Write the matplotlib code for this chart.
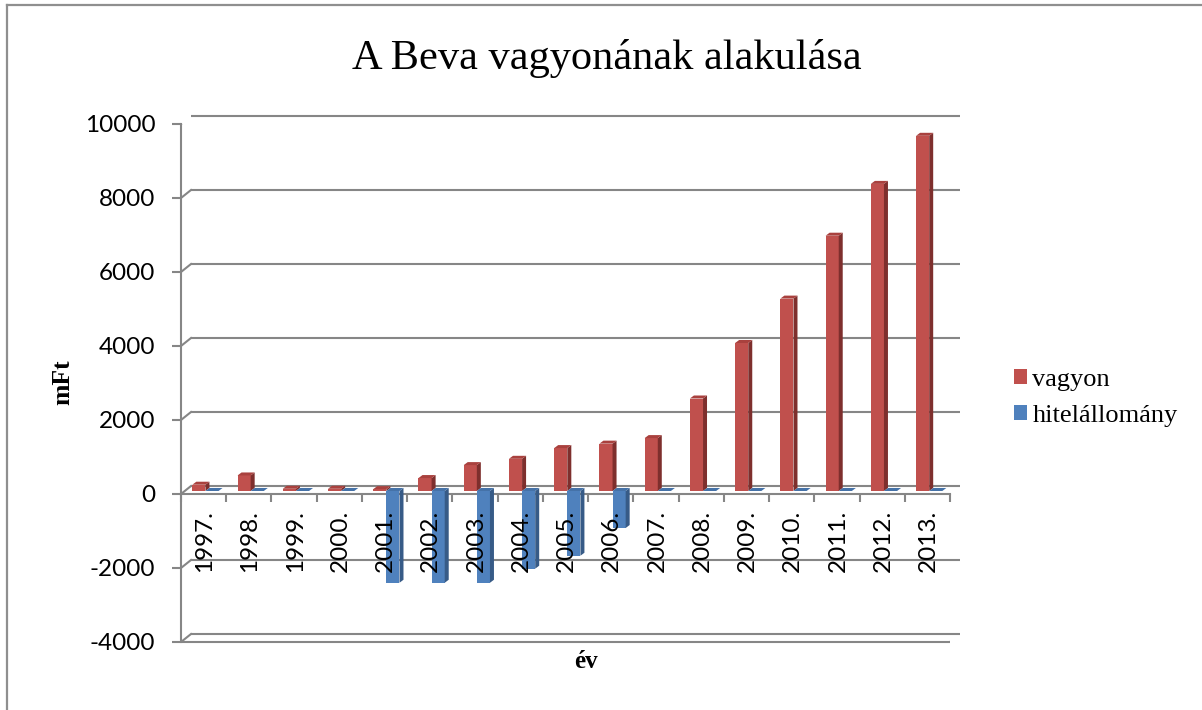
import matplotlib
matplotlib.use('Agg')
import matplotlib.pyplot as plt
from matplotlib.patches import Polygon, Patch
from matplotlib.lines import Line2D
from matplotlib.transforms import ScaledTranslation, IdentityTransform
import numpy as np

plt.rcParams['axes.unicode_minus'] = False

# ---- data ----
years = ['1997.', '1998.', '1999.', '2000.', '2001.', '2002.', '2003.', '2004.',
         '2005.', '2006.', '2007.', '2008.', '2009.', '2010.', '2011.', '2012.', '2013.']
vagyon = [170, 420, 60, 60, 50, 350, 700, 870, 1160, 1280, 1430,
          2500, 4000, 5200, 6900, 8300, 9600]
hitel = [0, 0, 0, 0, -2480, -2480, -2480, -2100, -1750, -1000, 0,
         0, 0, 0, 0, 0, 0]
yticks = [-4000, -2000, 0, 2000, 4000, 6000, 8000, 10000]
series_names = ['vagyon', 'hitelállomány']
title = 'A Beva vagyonának alakulása'
ylabel = 'mFt'
xlabel = 'év'

# ---- style ----
W, H = 1202, 710
GRID = '#868686'
LW = 1.5
RED = ('#C0504D', '#7E2F2D', '#A9413E')     # front, side, top
BLUE = ('#4F81BD', '#375B87', '#4572A8')
DEPTH = (10, 8)        # back wall offset in px
BAR_OFF = (0, 3)       # bar front face offset in px
BAR_D = (4, 3)         # bar depth in px
TICK_FS = 17.5

fig = plt.figure(figsize=(W / 100, H / 100), dpi=100)
ax = fig.add_axes([181 / W, 68 / H, 769 / W, 518 / H])
ax.set_xlim(0, len(years))
ax.set_ylim(yticks[0], yticks[-1])
ax.set_autoscale_on(False)


def off(dx, dy):
    return ax.transData + ScaledTranslation(dx / 100, dy / 100, fig.dpi_scale_trans)


def disp(x, y, dx=0, dy=0):
    p = ax.transData.transform((x, y))
    return (p[0] + dx, p[1] + dy)


n = len(years)
# back wall gridlines
for t in yticks:
    ax.plot([0, n], [t, t], transform=off(*DEPTH), color=GRID, lw=LW,
            clip_on=False, zorder=1, solid_capstyle='butt')
    a = disp(0, t)
    b = disp(0, t, *DEPTH)
    ax.add_line(Line2D([a[0], b[0]], [a[1], b[1]], transform=IdentityTransform(),
                       color=GRID, lw=LW, zorder=1))
# floor front edge and right diagonal
ax.plot([0, n], [yticks[0], yticks[0]], color=GRID, lw=LW, clip_on=False, zorder=1,
        solid_capstyle='butt')
a = disp(n, yticks[0])
b = disp(n, yticks[0], *DEPTH)
ax.add_line(Line2D([a[0], b[0]], [a[1], b[1]], transform=IdentityTransform(),
                   color=GRID, lw=LW, zorder=1))

# axes styling
for s in ['top', 'right']:
    ax.spines[s].set_visible(False)
ax.spines['left'].set_color(GRID)
ax.spines['left'].set_linewidth(LW)
ax.spines['bottom'].set_position(('data', 0))
ax.spines['bottom'].set_color(GRID)
ax.spines['bottom'].set_linewidth(LW)
ax.spines['bottom'].set_zorder(2)
ax.spines['left'].set_zorder(2)
ax.set_yticks(yticks)
ax.set_yticklabels([str(t) for t in yticks], fontsize=TICK_FS, family='Lato')
ax.tick_params(axis='y', direction='out', length=6.5, width=LW, color=GRID, pad=12)
ax.set_xticks(range(n + 1))
ax.set_xticklabels([])
ax.tick_params(axis='x', direction='out', length=5.8, width=LW, color=GRID)
ax.patch.set_visible(False)


def bar3d(xl, w, v, cols, z):
    ax.bar([xl], [v], width=w, align='edge', color=cols[0], linewidth=0,
           transform=off(*BAR_OFF), zorder=z)
    ox, oy = BAR_OFF
    dx, dy = BAR_D
    top = max(v, 0)
    side = [disp(xl + w, 0, ox, oy), disp(xl + w, v, ox, oy),
            disp(xl + w, v, ox + dx, oy + dy), disp(xl + w, 0, ox + dx, oy + dy)]
    ax.add_patch(Polygon(side, closed=True, facecolor=cols[1], edgecolor='none',
                         transform=IdentityTransform(), zorder=z))
    tp = [disp(xl, top, ox, oy), disp(xl + w, top, ox, oy),
          disp(xl + w, top, ox + dx, oy + dy), disp(xl, top, ox + dx, oy + dy)]
    ax.add_patch(Polygon(tp, closed=True, facecolor=cols[2], edgecolor='none',
                         transform=IdentityTransform(), zorder=z))


for k in range(n):
    bar3d(k + 0.25, 0.29, vagyon[k], RED, 3)
    bar3d(k + 0.54, 0.29, hitel[k], BLUE, 3)

# category labels
for k, lab in enumerate(years):
    ax.text(k + 0.5, 0, lab, rotation=90, ha='center', va='top', fontsize=TICK_FS,
            family='Lato', transform=off(1, -16), zorder=6)

# titles
fig.text(607 / W, (H - 69) / H, title, ha='center', va='baseline',
         fontsize=30.5, family='Liberation Serif')
fig.text(63 / W, (H - 382) / H, ylabel, ha='center', va='center', rotation=90,
         fontsize=18.5, family='Liberation Serif', fontweight='bold')
fig.text(586 / W, (H - 662) / H, xlabel, ha='center', va='center',
         fontsize=18, family='Liberation Serif', fontweight='bold')

# legend
handles = [Patch(facecolor=RED[0]), Patch(facecolor=BLUE[0])]
fig.legend(handles, series_names, loc='center left',
           bbox_to_anchor=(1014 / W, (H - 398) / H), bbox_transform=fig.transFigure,
           frameon=False, borderpad=0, borderaxespad=0,
           prop={'family': 'Liberation Serif', 'size': 19},
           handlelength=0.5, handleheight=0.5, handletextpad=0.2, labelspacing=0.55)

# outer border
fig.add_artist(Line2D([7 / W, 7 / W], [0, (H - 5) / H], transform=fig.transFigure,
                      color='#8f8f8f', lw=1.6))
fig.add_artist(Line2D([7 / W, 1], [(H - 5) / H, (H - 5) / H], transform=fig.transFigure,
                      color='#8f8f8f', lw=1.6))

fig.savefig('out.png', dpi=100)
